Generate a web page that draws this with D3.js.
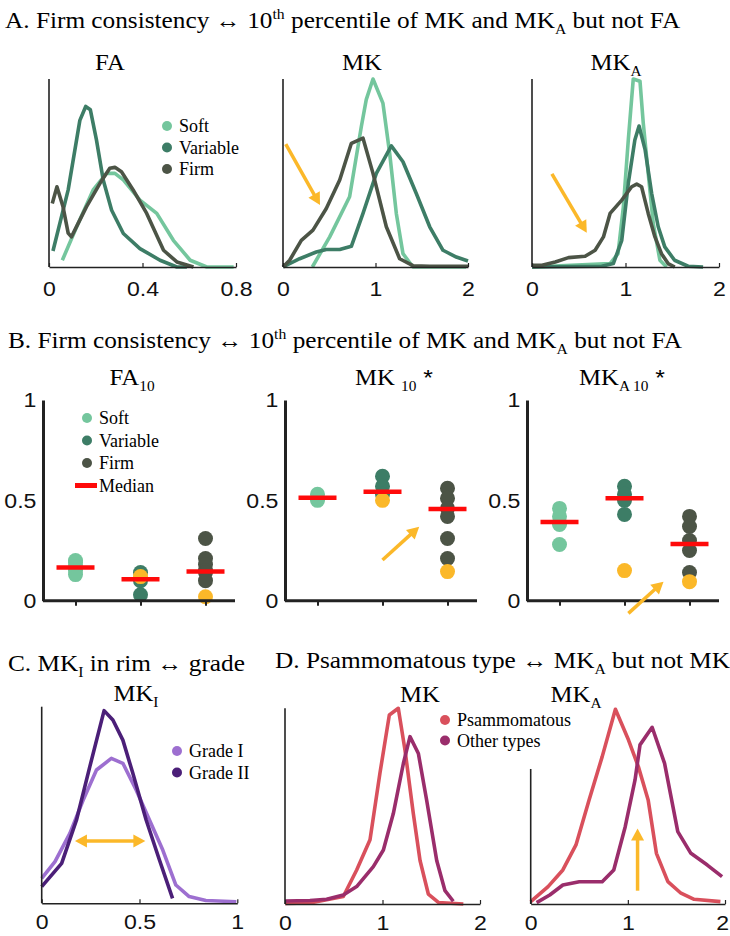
<!DOCTYPE html>
<html>
<head>
<meta charset="utf-8">
<script src="https://cdn.jsdelivr.net/npm/d3@7"></script>
<style>
  body { margin: 0; background: #fff; }
</style>
</head>
<body>
<script>
// ---------- data ----------
const consistency = ['Soft', 'Variable', 'Firm']
const grades = ['Grade I', 'Grade II']
const types = ['Psammomatous', 'Other types']

// A: density curves, [value, relative density]
const faSoft = [[0.057,0.036],[0.117,0.21],[0.189,0.41],[0.246,0.498],[0.282,0.498],[0.318,0.463],[0.389,0.356],[0.461,0.285],[0.532,0.142],[0.604,0.036],[0.675,0],[0.79,0]]
const faVariable = [[0.017,0.085],[0.082,0.41],[0.132,0.78],[0.157,0.854],[0.177,0.836],[0.203,0.676],[0.232,0.463],[0.268,0.302],[0.318,0.178],[0.389,0.098],[0.475,0.036],[0.547,0],[0.59,0]]
const faFirm = [[0.014,0.338],[0.034,0.427],[0.06,0.32],[0.082,0.18],[0.096,0.16],[0.16,0.32],[0.218,0.445],[0.26,0.525],[0.282,0.53],[0.31,0.507],[0.36,0.41],[0.418,0.285],[0.49,0.089],[0.547,0.027],[0.618,0]]

const mkSoft = [[0.317,0],[0.505,0.16],[0.72,0.374],[0.847,0.747],[0.9,0.89],[0.973,1.0],[1.08,0.872],[1.153,0.605],[1.225,0.285],[1.297,0.071],[1.405,0],[1.98,0]]
const mkVariable = [[0,0],[0.18,0.044],[0.36,0.08],[0.468,0.093],[0.613,0.093],[0.739,0.11],[0.865,0.285],[1.009,0.498],[1.171,0.644],[1.297,0.56],[1.441,0.391],[1.586,0.214],[1.73,0.089],[1.874,0.053],[2.0,0.032]]
const mkFirm = [[0,0],[0.072,0.036],[0.198,0.142],[0.324,0.196],[0.468,0.311],[0.613,0.463],[0.739,0.658],[0.865,0.685],[0.973,0.498],[1.117,0.214],[1.261,0.044],[1.405,0.007],[1.586,0.004],[2.0,0.004]]

const mkaSoft = [[0,0],[0.835,0.018],[0.92,0.071],[0.977,0.32],[1.03,0.676],[1.083,1.0],[1.155,0.988],[1.19,0.765],[1.243,0.498],[1.297,0.231],[1.368,0.036],[1.44,0]]
const mkaVariable = [[0,0],[0.746,0.004],[0.87,0.018],[0.96,0.142],[1.03,0.445],[1.1,0.676],[1.145,0.75],[1.21,0.623],[1.28,0.391],[1.35,0.214],[1.42,0.107],[1.525,0.036],[1.67,0.004],[1.83,0]]
const mkaFirm = [[0,0.009],[0.107,0.009],[0.249,0.027],[0.39,0.05],[0.568,0.057],[0.675,0.089],[0.764,0.16],[0.835,0.285],[0.96,0.356],[1.066,0.427],[1.12,0.441],[1.172,0.427],[1.243,0.285],[1.315,0.16],[1.385,0.071],[1.456,0.018],[1.527,0]]

// B: 10th percentile per tumour, one array per consistency group
const fa10Values = [[0.20,0.19,0.17,0.15,0.13],[0.14,0.10,0.03],[0.31,0.21,0.18,0.15,0.14,0.10]]
const fa10Flagged = [null, 0.12, 0.02]
const fa10Medians = [0.165, 0.107, 0.146]

const mk10Values = [[0.53,0.51,0.50],[0.62,0.57,0.53],[0.56,0.51,0.46,0.42,0.31,0.21]]
const mk10Flagged = [null, 0.50, 0.145]
const mk10Medians = [0.513, 0.543, 0.457]

const mka10Values = [[0.46,0.42,0.39,0.38,0.28],[0.57,0.53,0.50,0.43],[0.42,0.37,0.30,0.25,0.14]]
const mka10Flagged = [null, 0.15, 0.095]
const mka10Medians = [0.392, 0.51, 0.283]

// C
const mkiGrade1 = [[0,0.127],[0.068,0.212],[0.144,0.356],[0.212,0.525],[0.28,0.678],[0.356,0.737],[0.415,0.712],[0.483,0.576],[0.551,0.424],[0.619,0.271],[0.686,0.093],[0.754,0.034],[0.839,0.014],[0.995,0.008]]
const mkiGrade2 = [[0,0.085],[0.102,0.203],[0.178,0.424],[0.246,0.695],[0.319,0.98],[0.364,0.932],[0.415,0.83],[0.466,0.661],[0.534,0.424],[0.602,0.22],[0.669,0.025]]

// D
const psMK = [[0,0.003],[0.256,0.005],[0.598,0.038],[0.735,0.174],[0.872,0.328],[0.974,0.669],[1.07,0.966],[1.162,1.0],[1.231,0.786],[1.316,0.462],[1.385,0.222],[1.47,0.051],[1.573,0.008],[1.829,0]]
const otherMK = [[0,0.015],[0.256,0.018],[0.427,0.024],[0.598,0.046],[0.735,0.089],[0.906,0.191],[1.009,0.276],[1.111,0.462],[1.214,0.718],[1.282,0.855],[1.368,0.769],[1.453,0.53],[1.556,0.222],[1.641,0.068],[1.726,0.014]]
const psMKA = [[0,0.012],[0.179,0.089],[0.331,0.174],[0.466,0.302],[0.601,0.532],[0.736,0.753],[0.872,0.995],[1.007,0.838],[1.108,0.702],[1.209,0.532],[1.294,0.259],[1.412,0.114],[1.547,0.055],[1.682,0.024],[1.953,0.012]]
const otherMKA = [[0.061,0.007],[0.196,0.046],[0.331,0.097],[0.5,0.114],[0.736,0.114],[0.855,0.174],[0.973,0.395],[1.074,0.634],[1.125,0.813],[1.25,0.903],[1.378,0.719],[1.514,0.37],[1.649,0.259],[1.818,0.199],[1.97,0.14]]

// ---------- style ----------
const green = ['#74c69d', '#3d7d66', '#4c5446']
const purple = ['#9d6fd0', '#4b1f78']
const rose = ['#d9505c', '#9a2d6b']
const yellow = '#fbb829'
const medianRed = '#ff0a0a'
const ink = '#222'
const serif = '"Liberation Serif", "Times New Roman", serif'
const sans = '"Liberation Sans", Arial, sans-serif'
const stretch = 1.1   // the original lettering is a little wide

const svg = d3.select('body').append('svg')
    .attr('width', 730)
    .attr('height', 936)
    .attr('xmlns', 'http://www.w3.org/2000/svg')
svg.append('rect').attr('width', 730).attr('height', 936).attr('fill', '#fff')

// text made of pieces, some sub/superscript
function richText(x, y, parts, size, anchor) {
    const t = svg.append('text')
        .attr('x', x / stretch).attr('y', y)
        .attr('transform', `scale(${stretch},1)`)
        .attr('font-family', serif)
        .attr('font-size', size)
        .attr('text-anchor', anchor || 'start')
        .attr('fill', '#000')
    let shift = 0
    parts.forEach(p => {
        const s = typeof p === 'string' ? { t: p } : p
        const target = s.sup ? -size * 0.38 : s.sub ? size * 0.25 : 0
        const span = t.append('tspan')
            .attr('dy', target - shift)
            .attr('font-size', s.sup || s.sub ? size * 0.62 : size)
            .text(s.t)
        if (s.sans) span.attr('font-family', sans)
        shift = target
    })
    return t
}

function arrow(g, x1, y1, x2, y2, both) {
    const ang = Math.atan2(y2 - y1, x2 - x1)
    const len = 12, half = 6.5
    const head = (tx, ty, a) => {
        const bx = tx - len * Math.cos(a), by = ty - len * Math.sin(a)
        g.append('path')
            .attr('d', `M${tx},${ty}L${bx + half * Math.sin(a)},${by - half * Math.cos(a)}L${bx - half * Math.sin(a)},${by + half * Math.cos(a)}Z`)
            .attr('fill', yellow)
    }
    const sx = both ? x1 + len * 0.8 * Math.cos(ang) : x1
    const sy = both ? y1 + len * 0.8 * Math.sin(ang) : y1
    g.append('line')
        .attr('x1', sx).attr('y1', sy)
        .attr('x2', x2 - len * 0.8 * Math.cos(ang)).attr('y2', y2 - len * 0.8 * Math.sin(ang))
        .attr('stroke', yellow).attr('stroke-width', 3.5)
    head(x2, y2, ang)
    if (both) head(x1, y1, ang + Math.PI)
}

function legend(x, y, step, labels, colors, withMedian) {
    const g = svg.append('g')
    const label = (yy, l) => g.append('text')
        .attr('x', x + 12).attr('y', yy).attr('dy', '0.35em')
        .attr('font-family', serif).attr('font-size', 18).attr('fill', '#000')
        .text(l)
    labels.forEach((l, i) => {
        g.append('circle').attr('cx', x).attr('cy', y + i * step).attr('r', 5).attr('fill', colors[i])
        label(y + i * step, l)
    })
    if (withMedian) {
        const yy = y + labels.length * step
        g.append('line').attr('x1', x - 12).attr('x2', x + 10).attr('y1', yy).attr('y2', yy)
            .attr('stroke', medianRed).attr('stroke-width', 5)
        label(yy, 'Median')
    }
}

// density subplot: thin axes, ticks on x only
function density(cfg) {
    const x = d3.scaleLinear().domain(cfg.domain).range([cfg.x0, cfg.x1])
    const y = d3.scaleLinear().domain([0, 1]).range([cfg.yBase, cfg.yTop])
    const g = svg.append('g')
    const line = d3.line().x(d => x(d[0])).y(d => y(d[1]))
    cfg.series.forEach((s, i) => {
        g.append('path').datum(s).attr('d', line)
            .attr('fill', 'none').attr('stroke', cfg.colors[i])
            .attr('stroke-width', 3.6).attr('stroke-linejoin', 'round')
    })
    const ax = g.append('g').attr('transform', `translate(0,${cfg.yBase})`)
        .call(d3.axisBottom(x).tickValues(cfg.ticks).tickSizeInner(-4).tickSizeOuter(0)
            .tickPadding(cfg.pad || 14).tickFormat(d => String(d)))
    ax.select('.domain').attr('stroke', ink).attr('stroke-width', 1.6)
    ax.selectAll('.tick line').attr('stroke', ink).attr('stroke-width', 1.2)
    ax.selectAll('.tick text').attr('font-family', sans).attr('font-size', 21).attr('fill', '#111')
        .attr('transform', `scale(${stretch},1)`)
        .each(function () {
            // keep the last label inside the page
            const over = this.getBoundingClientRect().right - 729
            if (over > 0) d3.select(this).attr('x', -over / stretch)
        })
    g.append('line').attr('x1', cfg.x0).attr('x2', cfg.x0)
        .attr('y1', cfg.yBase).attr('y2', cfg.axisTop !== undefined ? y(cfg.axisTop) : cfg.yTop)
        .attr('stroke', ink).attr('stroke-width', 1.6)
    return { g, x, y }
}

// strip subplot for panel B
function strip(cfg) {
    const x = d3.scaleLinear().domain([0.5, 3.5]).range([cfg.x0, cfg.x0 + 195])
    const y = d3.scaleLinear().domain([0, 1]).range([600.7, 400])
    const g = svg.append('g')
    cfg.values.forEach((vals, i) => {
        g.selectAll(null).data(vals).enter().append('circle')
            .attr('cx', x(i + 1)).attr('cy', d => y(d)).attr('r', 7.5).attr('fill', green[i])
    })
    g.selectAll(null).data(cfg.flagged.map((v, i) => [i, v]).filter(d => d[1] !== null)).enter()
        .append('circle').attr('cx', d => x(d[0] + 1)).attr('cy', d => y(d[1])).attr('r', 7.5).attr('fill', yellow)
    g.selectAll(null).data(cfg.medians).enter().append('line')
        .attr('x1', (d, i) => x(i + 1) - 19).attr('x2', (d, i) => x(i + 1) + 19)
        .attr('y1', d => y(d)).attr('y2', d => y(d))
        .attr('stroke', medianRed).attr('stroke-width', 4.5)
    const ya = g.append('g').attr('transform', `translate(${cfg.x0},0)`)
        .call(d3.axisLeft(y).tickValues([0, 0.5, 1]).tickSize(0).tickPadding(6).tickFormat(d => String(d)))
    ya.select('.domain').attr('stroke', ink).attr('stroke-width', 3)
    ya.selectAll('.tick text').attr('font-family', sans).attr('font-size', 21).attr('fill', '#111')
        .attr('transform', `scale(${stretch},1)`)
    const xa = g.append('g').attr('transform', `translate(0,600.7)`)
        .call(d3.axisBottom(x).tickValues([1, 2, 3]).tickSizeInner(5).tickSizeOuter(0).tickFormat(''))
    xa.select('.domain').attr('d', `M${cfg.x0},0H${cfg.x0 + 192}`).attr('stroke', ink).attr('stroke-width', 3)
    xa.selectAll('.tick line').attr('stroke', ink).attr('stroke-width', 2)
    return { g, x, y }
}

// ---------- panel A ----------
richText(5, 28, ['A. Firm consistency ↔ 10', { t: 'th', sup: true }, ' percentile of MK and MK', { t: 'A', sub: true }, ' but not FA'], 23)
richText(110, 70, ['FA'], 22.5, 'middle')
richText(362, 70, ['MK'], 22.5, 'middle')
richText(616, 70, ['MK', { t: 'A', sub: true }], 22.5, 'middle')

density({ x0: 49, x1: 236, yTop: 79, yBase: 267, domain: [0, 0.8], ticks: [0, 0.4, 0.8],
    series: [faSoft, faVariable, faFirm], colors: green })
legend(167, 126, 21.5, consistency, green)

const aMK = density({ x0: 283, x1: 468, yTop: 79, yBase: 267, domain: [0, 2], ticks: [0, 1, 2],
    series: [mkSoft, mkVariable, mkFirm], colors: green })
arrow(aMK.g, aMK.x(0.03), aMK.y(0.654), aMK.x(0.4), aMK.y(0.33))

const aMKA = density({ x0: 532, x1: 719, yTop: 79, yBase: 267, domain: [0, 2], ticks: [0, 1, 2],
    series: [mkaSoft, mkaVariable, mkaFirm], colors: green })
arrow(aMKA.g, aMKA.x(0.213), aMKA.y(0.495), aMKA.x(0.586), aMKA.y(0.182))

// ---------- panel B ----------
richText(8, 348, ['B. Firm consistency ↔ 10', { t: 'th', sup: true }, ' percentile of MK and MK', { t: 'A', sub: true }, ' but not FA'], 23)
richText(132, 385, ['FA', { t: '10', sub: true }], 22.5, 'middle')
richText(394, 385, ['MK ', { t: '10', sub: true }, { t: ' *', sans: true }], 22.5, 'middle')
richText(622, 385, ['MK', { t: 'A 10', sub: true }, { t: ' *', sans: true }], 22.5, 'middle')

strip({ x0: 43, values: fa10Values, flagged: fa10Flagged, medians: fa10Medians })
legend(87, 418, 22.5, consistency, green, true)
const bMK = strip({ x0: 285, values: mk10Values, flagged: mk10Flagged, medians: mk10Medians })
arrow(bMK.g, bMK.x(2.0), bMK.y(0.203), bMK.x(2.565), bMK.y(0.369))
const bMKA = strip({ x0: 527, values: mka10Values, flagged: mka10Flagged, medians: mka10Medians })
arrow(bMKA.g, bMKA.x(2.06), bMKA.y(-0.063), bMKA.x(2.6), bMKA.y(0.095))

// ---------- panel C ----------
richText(8, 671, ['C. MK', { t: 'I', sub: true }, ' in rim ↔ grade'], 23)
richText(136, 701, ['MK', { t: 'I', sub: true }], 22.5, 'middle')
const cMKI = density({ x0: 41.7, x1: 237.3, yTop: 706.7, yBase: 903.3, domain: [0, 1], ticks: [0, 0.5, 1],
    series: [mkiGrade1, mkiGrade2], colors: purple, pad: 11 })
arrow(cMKI.g, cMKI.x(0.17), cMKI.y(0.317), cMKI.x(0.53), cMKI.y(0.317), true)
legend(177, 751, 21.5, grades, purple)

// ---------- panel D ----------
richText(275, 668, ['D. Psammomatous type ↔ MK', { t: 'A', sub: true }, ' but not MK'], 23)
richText(420, 702, ['MK'], 22.5, 'middle')
richText(576, 702, ['MK', { t: 'A', sub: true }], 22.5, 'middle')
density({ x0: 285, x1: 480, yTop: 708.3, yBase: 904, domain: [0, 2], ticks: [0, 1, 2],
    series: [psMK, otherMK], colors: rose, pad: 11 })
const dMKA = density({ x0: 530.7, x1: 725, yTop: 708.3, yBase: 904, domain: [0, 2], ticks: [0, 1, 2],
    series: [psMKA, otherMKA], colors: rose, axisTop: 0.69, pad: 11 })
arrow(dMKA.g, dMKA.x(1.1), dMKA.y(0.068), dMKA.x(1.1), dMKA.y(0.386))
legend(445, 720, 20.5, types, rose)
</script>
</body>
</html>
